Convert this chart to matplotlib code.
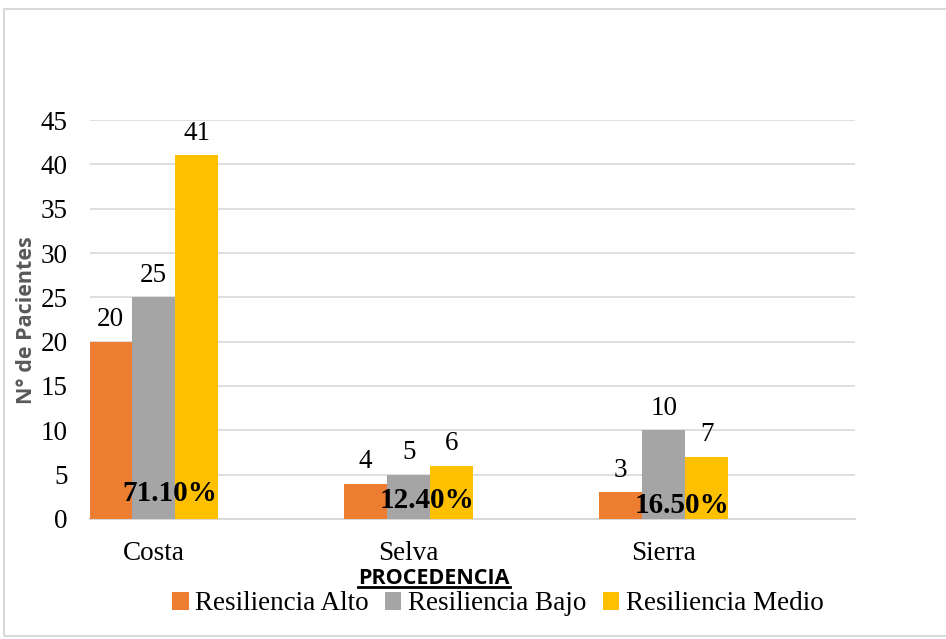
import matplotlib.pyplot as plt
import numpy as np
from matplotlib.patches import Rectangle
from matplotlib.lines import Line2D

# Datos
procedencia = ["Costa", "Selva", "Sierra"]
series = ["Resiliencia Alto", "Resiliencia Bajo", "Resiliencia Medio"]
alto = [20, 4, 3]
bajo = [25, 5, 10]
medio = [41, 6, 7]
porcentajes = ["71.10%", "12.40%", "16.50%"]
colores = ["#ED7D31", "#A5A5A5", "#FFC000"]

serif = "Liberation Serif"
sans = "Open Sans"

fig = plt.figure(figsize=(9.46, 6.39), dpi=100)
ax = fig.add_axes([0.0951, 0.1878, 0.8087, 0.6244])

# marco del gráfico
fig.patches.append(Rectangle((4 / 946, 0.004), 1.0, 0.982, transform=fig.transFigure,
                             fill=False, edgecolor="#D9D9D9", linewidth=1.5))

x = np.arange(len(procedencia))
w = 0.1686
for i, (nombre, vals) in enumerate(zip(series, [alto, bajo, medio])):
    pos = x + (i - 1) * w
    bars = ax.bar(pos, vals, width=w, color=colores[i], label=nombre, zorder=3)
    for b, v in zip(bars, vals):
        ax.annotate(str(v), (b.get_x() + b.get_width() / 2, v), xytext=(0, 7),
                    textcoords="offset points", ha="center", va="bottom",
                    fontsize=19.5, family=serif)

# porcentajes dentro de las barras
pct_x = [0.063, 1.07, 2.07]
pct_y = [2.93, 2.14, 1.47]
for px, py, t in zip(pct_x, pct_y, porcentajes):
    ax.text(px, py, t, ha="center", va="center", fontsize=21, fontweight="bold",
            family=serif, zorder=5)

ax.set_xlim(-0.25, 2.75)
ax.set_ylim(0, 45)
ax.set_yticks(range(0, 46, 5))
ax.set_xticks(x)
ax.set_xticklabels(procedencia)
ax.tick_params(axis="both", length=0, labelsize=19.5)
ax.tick_params(axis="y", pad=16)
ax.tick_params(axis="x", pad=16)
for lbl in ax.get_xticklabels() + ax.get_yticklabels():
    lbl.set_family(serif)

ax.grid(axis="y", color="#D9D9D9", linewidth=1.2, zorder=0)
for s in ["top", "right", "left"]:
    ax.spines[s].set_visible(False)
ax.spines["bottom"].set_color("#D9D9D9")
ax.spines["bottom"].set_linewidth(1.5)

fig.text(27 / 946, 1 - 320 / 639, "N° de Pacientes", rotation=90, ha="center",
         va="center", fontsize=15.5, fontweight="bold", color="#595959", family=sans)

titulo = fig.text(434 / 946, 1 - 578 / 639, "PROCEDENCIA", ha="center", va="center",
                  fontsize=15.5, fontweight="bold", family=sans)

ax.legend(loc="center", bbox_to_anchor=(498 / 946, 1 - 604 / 639),
          bbox_transform=fig.transFigure, ncol=3, frameon=False,
          prop={"family": serif, "size": 19.5}, handlelength=0.6, handleheight=0.6,
          handletextpad=0.25, columnspacing=0.6)

# subrayado del título del eje
fig.canvas.draw()
bb = titulo.get_window_extent().transformed(fig.transFigure.inverted())
fig.add_artist(Line2D([bb.x0, bb.x1], [bb.y0 + 0.003, bb.y0 + 0.003],
                      transform=fig.transFigure, color="black", linewidth=2))

fig.savefig("out.png", dpi=100)
